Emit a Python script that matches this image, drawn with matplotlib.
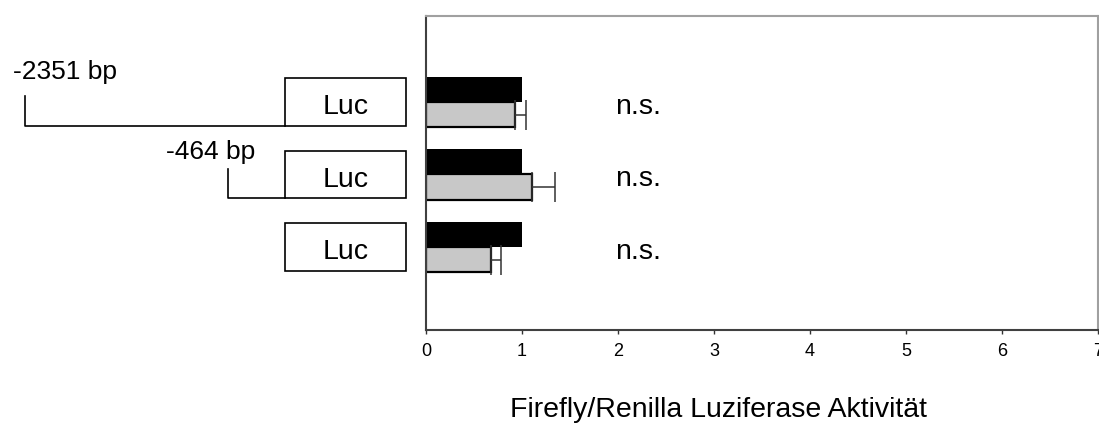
import matplotlib.pyplot as plt
import matplotlib.transforms as mtransforms
from matplotlib.patches import Rectangle

plt.rcParams['font.family'] = ['Liberation Sans', 'DejaVu Sans']

# Data
constructs = ['-2351 bp', '-464 bp', '']
control = [1.0, 1.0, 1.0]
treated = [0.93, 1.10, 0.68]
treated_err = [0.11, 0.24, 0.10]
significance = ['n.s.', 'n.s.', 'n.s.']
xticks = [0, 1, 2, 3, 4, 5, 6, 7]

fig = plt.figure(figsize=(10.99, 4.23), dpi=100)
ax = fig.add_axes([426 / 1099, 1 - 330 / 423, 672 / 1099, 314 / 423])

ypos = list(range(len(control)))
h = 0.35
ax.barh([y - h / 2 for y in ypos], control, height=h, color='black', edgecolor='black', linewidth=0)
ax.barh([y + h / 2 for y in ypos], treated, height=h, color='#c8c8c8', edgecolor='black', linewidth=1.6,
        xerr=[[0] * len(treated), treated_err],
        error_kw=dict(ecolor='#333333', elinewidth=1.1, capsize=11, capthick=1.1))

for y, s in zip(ypos, significance):
    ax.text(1.97, y + 0.165, s, fontsize=20.5, va='baseline', ha='left')

ax.set_xlim(0, 7)
ax.set_ylim(2 + 1.145, -1.186)
ax.set_xticks(xticks)
ax.set_yticks([])
ax.tick_params(axis='x', direction='out', length=3, width=1, labelsize=13, pad=6.5, color='#333333')
ax.spines['top'].set_color('#a0a0a0')
ax.spines['right'].set_color('#a0a0a0')
ax.spines['left'].set_color('#404040')
ax.spines['bottom'].set_color('#404040')
for sp in ax.spines.values():
    sp.set_linewidth(1.5)

fig.text(718 / 1099, 6 / 423, 'Firefly/Renilla Luziferase Aktivität', fontsize=20.5, ha='center', va='baseline')

# promoter constructs drawn to the left, aligned to bar groups
trans = mtransforms.blended_transform_factory(fig.transFigure, ax.transData)
box_l, box_r = 285 / 1099, 406 / 1099
box_h = 0.33
line_start = [25 / 1099, 228 / 1099, None]
label_x = [13 / 1099, 166 / 1099, None]
label_dy = [-0.317, -0.207, None]
for y, name, xs, lx, ldy in zip(ypos, constructs, line_start, label_x, label_dy):
    ax.add_patch(Rectangle((box_l, y - box_h), box_r - box_l, 2 * box_h, transform=trans,
                           facecolor='white', edgecolor='black', linewidth=1.2, clip_on=False))
    ax.text((box_l + box_r) / 2, y + 0.17, 'Luc', transform=trans, fontsize=20.5, ha='center', va='baseline')
    if xs is not None:
        ax.plot([xs, xs, box_l], [y + box_h - 0.41, y + box_h, y + box_h], transform=trans,
                color='black', linewidth=1.2, clip_on=False)
        ax.text(lx, y + ldy, name, transform=trans, fontsize=19, ha='left', va='baseline')

fig.savefig('out.png', dpi=100)
